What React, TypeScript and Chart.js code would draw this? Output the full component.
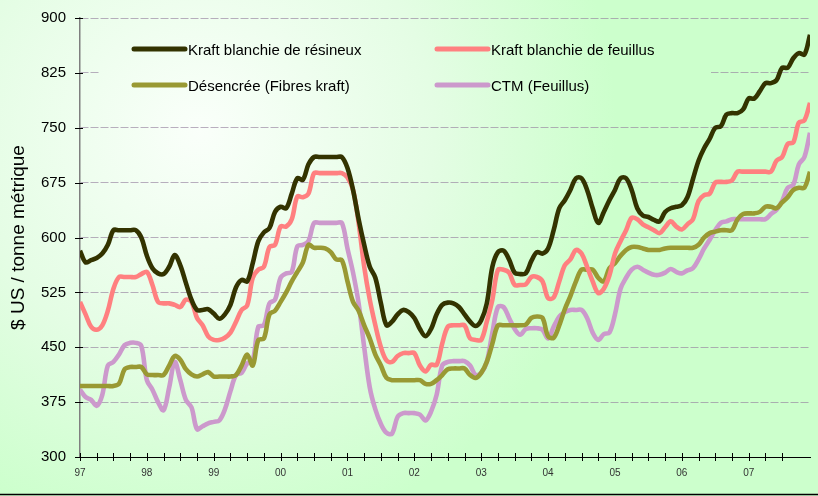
import React, { useEffect, useRef } from "react";
import { Chart, registerables } from "chart.js";

Chart.register(...registerables);

// Monthly data, January 1997 to December 2007 (index 0 = Jan 1997)
const YEAR_LABELS = ["97", "98", "99", "00", "01", "02", "03", "04", "05", "06", "07"];
const Y_TICKS = [300, 375, 450, 525, 600, 675, 750, 825, 900];

const SERIES_NAMES = [
  "Kraft blanchie de résineux",
  "Kraft blanchie de feuillus",
  "Désencrée (Fibres kraft)",
  "CTM (Feuillus)",
];
const SERIES_COLORS = ["#333300", "#FF8080", "#999933", "#CC99CC"];

const kraftResineux = [
  582, 566, 569, 572, 578, 590, 610, 610, 610, 610, 610, 600,
  575, 558, 551, 550, 560, 576, 562, 538, 515, 501, 501, 502,
  496, 489, 495, 508, 532, 542, 540, 565, 595, 607, 613, 635,
  642, 640, 660, 681, 679, 700, 710, 710, 710, 710, 710, 710,
  695, 665, 625, 590, 560, 545, 510, 480, 485, 495, 501, 498,
  490, 475, 465, 475, 495, 508, 511, 510, 505, 495, 485, 479,
  487, 510, 560, 580, 582, 570, 552, 550, 551, 568, 580, 578,
  585, 610, 640, 651, 665, 681, 681, 665, 640, 620, 635, 651,
  665, 681, 681, 665, 640, 630, 628, 624, 622, 635, 640, 642,
  644, 655, 680, 705, 722, 735, 750, 752, 768, 770, 770, 775,
  790, 790, 800, 811, 811, 815, 832, 832, 845, 852, 850, 877,
];

const kraftFeuillus = [
  512, 495, 478, 474, 480, 500, 530, 546, 546, 546, 546, 550,
  553, 535, 512, 510, 510, 508, 505, 515, 512, 490, 480, 465,
  460, 460, 463, 470, 485, 501, 507, 545, 556, 560, 587, 590,
  615, 615, 625, 656, 655, 660, 688, 688, 688, 688, 688, 688,
  682, 665, 620, 560, 515, 480, 450, 432, 430, 438, 442, 442,
  442, 425, 417, 426, 426, 455, 478, 480, 480, 480, 462, 460,
  460, 485, 515, 556, 556, 552, 535, 535, 536, 546, 546, 540,
  517, 518, 540, 562, 570, 583, 578, 560, 540, 524, 530, 548,
  578, 595, 610, 627, 625, 618, 614, 610, 606, 614, 622, 615,
  611, 618, 625, 650, 658, 660, 675, 676, 676, 678, 690, 690,
  690, 690, 690, 690, 690, 705, 710, 728, 730, 757, 760, 784,
];

const desencree = [
  397, 397, 397, 397, 397, 397, 397, 400, 420, 423, 423, 423,
  413, 412, 412, 412, 425, 438, 433, 420, 413, 410, 413, 416,
  410, 410, 410, 410, 412, 425, 440, 425, 460, 462, 495, 500,
  512, 525, 540, 553, 566, 590, 586, 586, 585, 580, 570, 569,
  540, 512, 500, 480, 462, 440, 425, 408, 405, 405, 405, 405,
  405, 405, 400, 400, 405, 412, 420, 421, 421, 421, 412, 408,
  415, 430, 455, 480, 480, 480, 480, 480, 481, 490, 492, 490,
  465, 463, 480, 502, 520, 540, 556, 556, 556, 545, 540, 558,
  565, 575, 583, 587, 587, 585, 583, 583, 583, 585, 586, 586,
  586, 586, 586, 590, 600, 606, 608, 610, 610, 610, 625, 632,
  633, 633, 635, 642, 642, 640, 648, 655, 665, 668, 668, 690,
];

const ctmFeuillus = [
  392, 382, 378, 370, 385, 425, 430, 440, 453, 456, 456, 452,
  405, 392, 375, 364, 395, 430, 405, 378, 368, 338, 342, 346,
  348, 350, 365, 390, 412, 415, 428, 432, 478, 480, 510, 515,
  545, 551, 553, 588, 590, 595, 620, 620, 620, 620, 620, 620,
  585, 552, 510, 450, 395, 365, 345, 333, 332, 355, 360, 360,
  360, 358, 350, 362, 385, 425, 430, 431, 431, 431, 425, 412,
  415, 430, 470, 505, 505, 490, 475, 467, 475, 476, 476, 474,
  462, 478, 492, 498, 501, 501, 501, 490, 470, 460, 468, 470,
  495, 530, 545, 556, 560, 556, 552, 549, 549, 552, 557, 553,
  551, 555, 558, 570, 585, 597, 610, 620, 622, 625, 625, 625,
  625, 625, 625, 625, 632, 638, 650, 668, 672, 700, 710, 743,
];

const SERIES = [kraftResineux, kraftFeuillus, desencree, ctmFeuillus];

const W = 818;
const H = 496;
const FONT = "'Liberation Sans', Arial, Helvetica, sans-serif";

function makeBg(ctx: CanvasRenderingContext2D) {
  const g = ctx.createRadialGradient(200, 130, 0, 200, 130, 520);
  g.addColorStop(0, "#fafffa");
  g.addColorStop(0.45, "#e4fde4");
  g.addColorStop(0.8, "#ccffcc");
  g.addColorStop(1, "#ccffcc");
  return g;
}

const customPlugin = {
  id: "custom",
  beforeDraw(chart: any) {
    const ctx = chart.ctx as CanvasRenderingContext2D;
    ctx.save();
    ctx.fillStyle = makeBg(ctx);
    ctx.fillRect(0, 0, chart.width, chart.height);
    ctx.restore();
  },
  beforeDatasetsDraw(chart: any) {
    const ctx = chart.ctx as CanvasRenderingContext2D;
    const ca = chart.chartArea;
    // legend box (covers gridlines)
    ctx.save();
    ctx.fillStyle = makeBg(ctx);
    ctx.fillRect(ca.left + 20, ca.top + 8, 611, 95);
    // legend entries
    const cols = [ca.left + 54, ca.left + 357];
    const rows = [ca.top + 31, ca.top + 67];
    ctx.font = "15px " + FONT;
    ctx.textBaseline = "middle";
    ctx.textAlign = "left";
    SERIES_NAMES.forEach((name, i) => {
      const cx = cols[i % 2];
      const cy = rows[Math.floor(i / 2)];
      ctx.strokeStyle = SERIES_COLORS[i];
      ctx.lineWidth = 5;
      ctx.lineCap = "round";
      ctx.beginPath();
      ctx.moveTo(cx, cy);
      ctx.lineTo(cx + 51, cy);
      ctx.stroke();
      ctx.fillStyle = "#000";
      ctx.fillText(name, cx + 54, cy + 2);
    });
    ctx.restore();
  },
  afterDraw(chart: any) {
    const ctx = chart.ctx as CanvasRenderingContext2D;
    const xs = chart.scales.x;
    const ys = chart.scales.y;
    ctx.save();
    ctx.strokeStyle = "#000";
    ctx.lineWidth = 1;
    // x tick marks crossing the axis
    xs.ticks.forEach((t: any) => {
      const px = Math.round(xs.getPixelForValue(t.value)) + 0.5;
      ctx.beginPath();
      ctx.moveTo(px, ys.bottom - 4);
      ctx.lineTo(px, ys.bottom + 4);
      ctx.stroke();
    });
    // y tick marks crossing the axis
    ys.ticks.forEach((t: any) => {
      const py = Math.round(ys.getPixelForValue(t.value)) + 0.5;
      ctx.beginPath();
      ctx.moveTo(xs.left - 5, py);
      ctx.lineTo(xs.left + 3, py);
      ctx.stroke();
    });
    // bottom frame line
    ctx.beginPath();
    ctx.moveTo(0, chart.height - 1.5);
    ctx.lineTo(chart.width, chart.height - 1.5);
    ctx.lineWidth = 1.5;
    ctx.stroke();
    ctx.restore();
  },
};

export default function App() {
  const ref = useRef<HTMLCanvasElement | null>(null);

  useEffect(() => {
    if (!ref.current) return;
    const datasets = SERIES.map((arr, i) => ({
      label: SERIES_NAMES[i],
      data: arr.map((v, idx) => ({ x: idx, y: v })),
      borderColor: SERIES_COLORS[i],
      backgroundColor: SERIES_COLORS[i],
      borderWidth: 4.6,
      pointRadius: 0,
      tension: 0.35,
      fill: false,
      order: i,
    }));

    const chart = new Chart(ref.current, {
      type: "line",
      data: { datasets },
      plugins: [customPlugin],
      options: {
        animation: false,
        responsive: false,
        devicePixelRatio: 1,
        layout: { padding: { left: 0, right: 8, top: 18, bottom: 0 } },
        plugins: {
          legend: { display: false },
          tooltip: { enabled: false },
        },
        scales: {
          x: {
            type: "linear",
            min: 0,
            max: kraftResineux.length - 1,
            afterBuildTicks: (scale: any) => {
              scale.ticks = scale.ticks.filter((t: any) => t.value % 3 === 0);
            },
            afterFit: (scale: any) => {
              scale.height = 39;
            },
            grid: { display: false, drawTicks: false },
            border: { display: true, color: "#000", width: 1 },
            ticks: {
              stepSize: 3,
              autoSkip: false,
              maxRotation: 0,
              padding: 10,
              color: "#333",
              font: { family: "'Liberation Sans Narrow', 'Liberation Sans', Arial, sans-serif", size: 10 },
              callback: (v: any) => {
                const n = Number(v);
                return n % 12 === 0 ? YEAR_LABELS[n / 12] ?? "" : "";
              },
            },
          },
          y: {
            min: Y_TICKS[0],
            max: Y_TICKS[Y_TICKS.length - 1],
            afterBuildTicks: (scale: any) => {
              scale.ticks = Y_TICKS.map((v) => ({ value: v }));
            },
            afterFit: (scale: any) => {
              scale.width = 80;
            },
            grid: {
              drawTicks: true,
              tickLength: 8,
              tickColor: "rgba(0,0,0,0)",
              color: (c: any) => (c.tick && c.tick.value === 300 ? "rgba(0,0,0,0)" : "rgba(150,130,160,0.65)"),
              lineWidth: 1,
            },
            border: { display: true, color: "#7f7f7f", width: 1.5, dash: [8, 2] as any },
            ticks: {
              padding: 6,
              color: "#000",
              font: { family: FONT, size: 15 },
            },
            title: {
              display: true,
              text: "$ US / tonne métrique",
              color: "#000",
              font: { family: FONT, size: 19 },
              padding: { top: 7, bottom: 0 },
            },
          },
        },
      } as any,
    });
    return () => chart.destroy();
  }, []);

  return (
    <div style={{ position: "fixed", left: 0, top: 0, width: W, height: H }}>
      <canvas ref={ref} width={W} height={H} style={{ width: W, height: H, display: "block" }} />
    </div>
  );
}
